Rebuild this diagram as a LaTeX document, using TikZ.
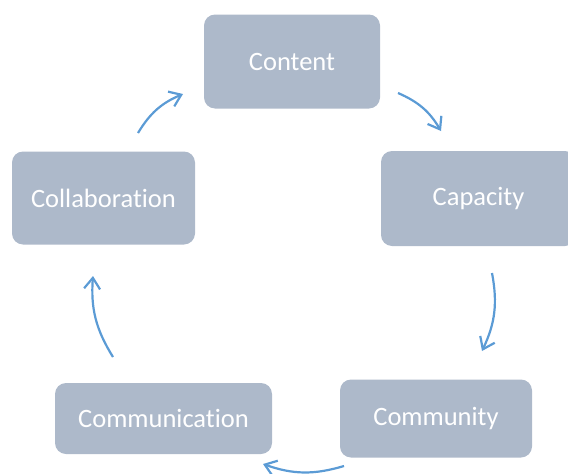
\documentclass[tikz,border=0pt]{standalone}
\usepackage{fontspec}
\setmainfont[Ligatures={NoCommon}]{Carlito}
\usetikzlibrary{arrows.meta}
\definecolor{boxfill}{HTML}{ADB9CA}
\definecolor{arrowblue}{HTML}{5B9BD5}
\tikzset{
  cyclebox/.style={fill=boxfill, rounded corners=11pt, text=white,
    font=\fontsize{26.5}{30}\selectfont, inner sep=0pt},
  cyclearrow/.style={draw=arrowblue, line width=2.2pt,
    -{Straight Barb[length=11pt,width=16pt,line width=2.2pt]}, bend left=18}
}
\begin{document}
\begin{tikzpicture}[x=1pt,y=-1pt]
  \useasboundingbox (0,0) rectangle (568,474);
  \clip (0,0) rectangle (568,474);
  % the five stages, laid out on a ring
  \node[cyclebox, minimum width=176pt, minimum height=94pt] (content) at (292,61.5) {Content};
  \node[cyclebox, minimum width=195pt, minimum height=95pt] (capacity) at (478.5,198.5) {Capacity};
  \node[cyclebox, minimum width=192pt, minimum height=78pt] (community) at (436,418.5) {Community};
  \node[cyclebox, minimum width=217pt, minimum height=71pt] (communication) at (163.5,418.5) {Communication};
  \node[cyclebox, minimum width=183pt, minimum height=93pt] (collaboration) at (103.5,198) {Collaboration};
  % arrow end points between neighbouring stages
  \coordinate (a1) at (398,93);  \coordinate (b1) at (441,131);
  \coordinate (a2) at (492,273); \coordinate (b2) at (482,351);
  \coordinate (a3) at (344,466); \coordinate (b3) at (263,464);
  \coordinate (a4) at (113,357); \coordinate (b4) at (93,276);
  \coordinate (a5) at (138,133); \coordinate (b5) at (183,94);
  \draw[cyclearrow] (a1) to (b1);
  \draw[cyclearrow] (a2) to (b2);
  \draw[cyclearrow] (a3) to (b3);
  \draw[cyclearrow] (a4) to (b4);
  \draw[cyclearrow] (a5) to (b5);
\end{tikzpicture}
\end{document}
